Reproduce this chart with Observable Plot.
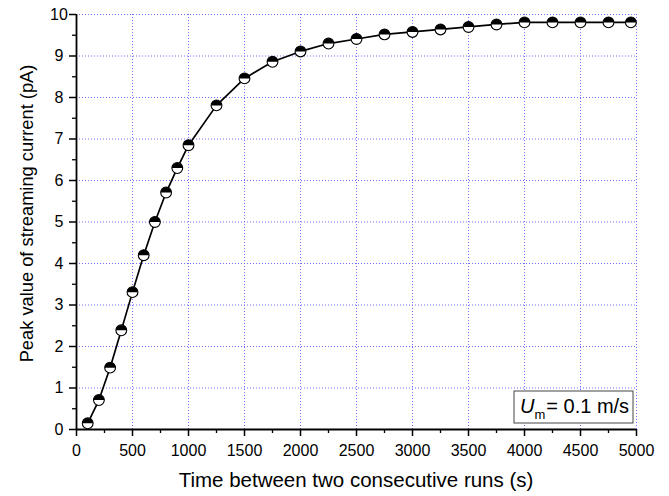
<!DOCTYPE html>
<html>
<head>
<meta charset="utf-8">
<script src="https://cdn.jsdelivr.net/npm/d3@7"></script>
<script src="https://cdn.jsdelivr.net/npm/@observablehq/plot@0.6"></script>
<style>
  html, body { margin: 0; padding: 0; background: #fff; }
  #chart { width: 669px; height: 496px; }
  svg { font-family: "Liberation Sans", Arial, sans-serif; }
</style>
</head>
<body>
<div id="chart"></div>
<script>
const times = [100, 200, 300, 400, 500, 600, 700, 800, 900, 1000, 1250, 1500, 1750, 2000, 2250, 2500, 2750, 3000, 3250, 3500, 3750, 4000, 4250, 4500, 4750, 4950];
const peaks = [0.15, 0.71, 1.49, 2.39, 3.31, 4.2, 5.0, 5.71, 6.3, 6.85, 7.81, 8.46, 8.86, 9.11, 9.3, 9.41, 9.52, 9.58, 9.64, 9.7, 9.76, 9.81, 9.81, 9.81, 9.81, 9.81];
const xMajor = [0, 500, 1000, 1500, 2000, 2500, 3000, 3500, 4000, 4500, 5000];
const xMinor = [250, 750, 1250, 1750, 2250, 2750, 3250, 3750, 4250, 4750];
const yMajor = [0, 1, 2, 3, 4, 5, 6, 7, 8, 9, 10];
const yMinor = [0.5, 1.5, 2.5, 3.5, 4.5, 5.5, 6.5, 7.5, 8.5, 9.5];
const xLabel = "Time between two consecutive runs (s)";
const yLabel = "Peak value of streaming current (pA)";
const legendSymbol = "U";
const legendSub = "m";
const legendRest = "= 0.1 m/s";

const data = times.map((t, i) => ({t, v: peaks[i]}));

const topHalf = {
  draw(ctx, size) {
    const r = Math.sqrt(size / Math.PI);
    ctx.moveTo(r, 0);
    ctx.arc(0, 0, r, 0, Math.PI, true);
    ctx.closePath();
  }
};

const gridColor = "#6f6fff";

const plot = Plot.plot({
  width: 669,
  height: 496,
  marginLeft: 76,
  marginRight: 33,
  marginTop: 14,
  marginBottom: 67,
  style: {fontFamily: "'Liberation Sans', Arial, sans-serif", fontSize: "16px", color: "#000", background: "#fff"},
  x: {domain: [0, 5000], label: null},
  y: {domain: [0, 10], label: null},
  marks: [
    Plot.gridX(xMajor.filter(d => d > 0), {stroke: gridColor, strokeOpacity: 1, strokeWidth: 1, strokeDasharray: "1,2"}),
    Plot.gridY(yMajor.filter(d => d > 0), {stroke: gridColor, strokeOpacity: 1, strokeWidth: 1, strokeDasharray: "1,2"}),
    Plot.axisX(xMinor, {tickSize: 4, text: null, strokeWidth: 1.3, label: null}),
    Plot.axisX(xMajor, {tickSize: 7, tickPadding: 8, strokeWidth: 1.5, fontSize: 16, tickFormat: d => String(d), label: null}),
    Plot.axisY(yMinor, {tickSize: 4, text: null, strokeWidth: 1.3, label: null}),
    Plot.axisY(yMajor, {tickSize: 7, tickPadding: 10.5, textAnchor: "middle", strokeWidth: 1.5, fontSize: 16, tickFormat: d => String(d), label: null}),
    Plot.ruleY([0], {stroke: "#000", strokeWidth: 1.8}),
    Plot.ruleX([0], {stroke: "#000", strokeWidth: 1.8}),
    Plot.line(data, {x: "t", y: "v", stroke: "#000", strokeWidth: 1.7}),
    Plot.dot(data, {x: "t", y: "v", r: 5.4, fill: "#fff", stroke: "#000", strokeWidth: 1.1}),
    Plot.dot(data, {x: "t", y: "v", r: 5.4, symbol: topHalf, fill: "#000", stroke: "none"})
  ]
});

const svg = d3.select(plot);
const xs = plot.scale("x"), ys = plot.scale("y");
const x0 = xs.apply(0), x1 = xs.apply(5000), y0 = ys.apply(0), y1 = ys.apply(10);

// axis titles
svg.append("text")
  .attr("x", (x0 + x1) / 2).attr("y", 487)
  .attr("text-anchor", "middle")
  .attr("font-size", 20.5).attr("fill", "#000")
  .text(xLabel);
svg.append("text")
  .attr("transform", `translate(33,${(y0 + y1) / 2 - 8}) rotate(-90)`)
  .attr("text-anchor", "middle")
  .attr("font-size", 18.3).attr("fill", "#000")
  .text(yLabel);

// legend box
const lg = svg.append("g").attr("text-anchor", "start");
const bx = x1 - 122, by = y0 - 38;
lg.append("rect").attr("x", bx).attr("y", by).attr("width", 119).attr("height", 32)
  .attr("fill", "#fff").attr("stroke", "#444").attr("stroke-width", 1);
const t = lg.append("text").attr("x", bx + 6).attr("y", by + 22).attr("font-size", 20)
  .attr("fill", "#000").attr("text-anchor", "start");
t.append("tspan").attr("font-style", "italic").text(legendSymbol);
t.append("tspan").attr("font-size", 13).attr("dy", 6).text(legendSub);
t.append("tspan").attr("dy", -6).attr("dx", 1).text(legendRest);

document.getElementById("chart").appendChild(plot);
</script>
</body>
</html>
